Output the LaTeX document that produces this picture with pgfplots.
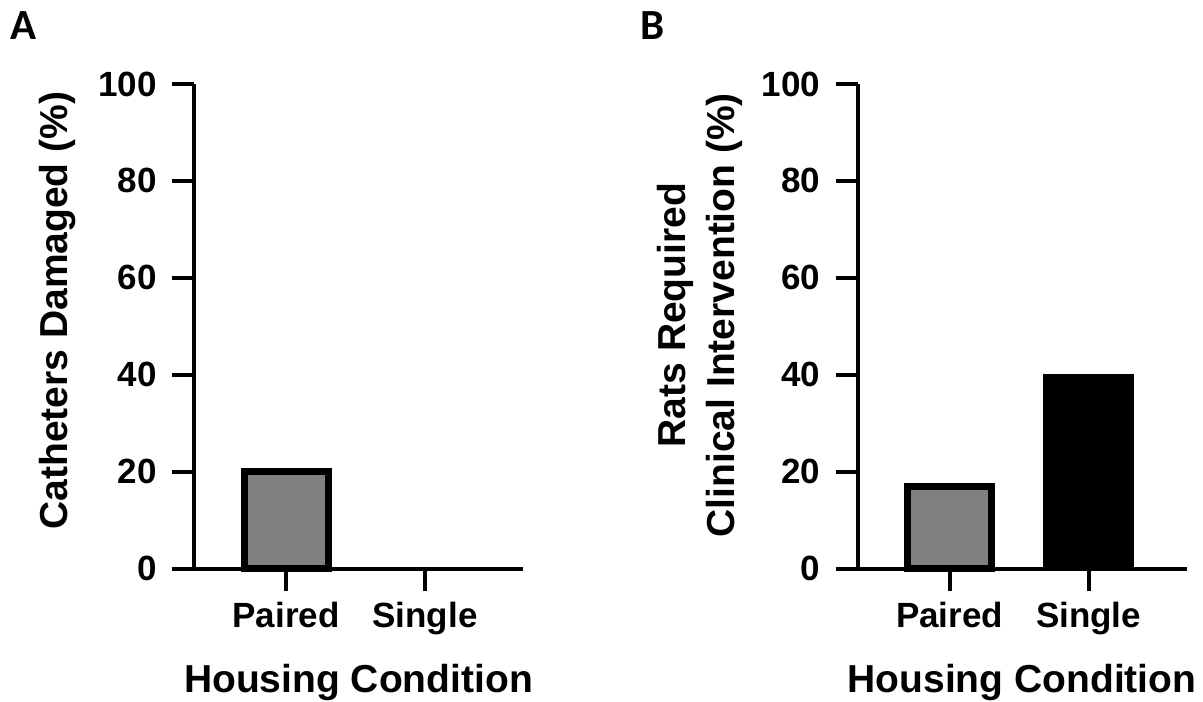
\documentclass[border=0pt]{standalone}
\usepackage{fontspec}
\setmainfont{Liberation Sans}
\newfontfamily\panelfont{Carlito}
\usepackage{pgfplots}
\pgfplotsset{compat=1.18}
\definecolor{bargray}{HTML}{808080}
\pgfplotsset{
  gp/.style={
    scale only axis, width=164.5pt, height=242.25pt,
    xmin=-0.662, xmax=1.705, ymin=0, ymax=100,
    axis x line=bottom, axis y line=left,
    axis line style={line width=2pt, -},
    xtick={0,1}, xticklabels={Paired,Single},
    ytick={0,20,40,60,80,100},
    tick align=outside, major tick length=11pt,
    every tick/.style={black, line width=2pt},
    /pgf/number format/assume math mode=true,
    ticklabel style={font=\fontsize{17.5}{21}\selectfont\bfseries},
    yticklabel style={anchor=east, inner sep=0pt, xshift=-7.5pt},
    xticklabel style={anchor=base, inner sep=0pt, yshift=-18.5pt},
    xlabel={Housing Condition},
    every axis x label/.style={at={(axis description cs:0.5,-0.255)}, anchor=base,
      font=\fontsize{19.5}{24.5}\selectfont\bfseries},
    clip=false,
  }
}
\begin{document}
\begin{tikzpicture}
\path[use as bounding box] (0,0) rectangle (601.5pt,-350.5pt);
\node[anchor=base west, inner sep=0pt, font=\fontsize{21.5}{24}\selectfont\panelfont\bfseries] at (5pt,-20pt) {A};
\node[anchor=base west, inner sep=0pt, font=\fontsize{21.5}{24}\selectfont\panelfont\bfseries] at (320pt,-20pt) {B};
\begin{axis}[gp, at={(97pt,-284.25pt)}, anchor=south west,
  ylabel={Catheters Damaged (\%)},
  every axis y label/.style={at={(axis description cs:-0.383,0.5325)}, anchor=base, rotate=90,
    font=\fontsize{19.5}{24.5}\selectfont\bfseries}]
  \addplot[ybar, bar shift=0pt, bar width=42pt, fill=bargray, draw=black, line width=3.5pt] coordinates {(0,20)};
  \addplot[ybar, bar shift=0pt, bar width=45pt, fill=black, draw=none] coordinates {(1,0)};
  \draw[line width=2pt] (rel axis cs:0,0) -- ++(-11pt,0);
\end{axis}
\begin{axis}[gp, at={(428.75pt,-284.25pt)}, anchor=south west,
  ylabel={Rats Required\\Clinical Intervention (\%)},
  every axis y label/.style={at={(axis description cs:-0.480,0.523)}, anchor=center, rotate=90, align=center,
    font=\fontsize{19.5}{24.5}\selectfont\bfseries}]
  \addplot[ybar, bar shift=0pt, bar width=42pt, fill=bargray, draw=black, line width=3.5pt] coordinates {(0,17)};
  \addplot[ybar, bar shift=0pt, bar width=45pt, fill=black, draw=black, line width=0.5pt] coordinates {(1,40)};
  \draw[line width=2pt] (rel axis cs:0,0) -- ++(-11pt,0);
\end{axis}
\end{tikzpicture}
\end{document}
